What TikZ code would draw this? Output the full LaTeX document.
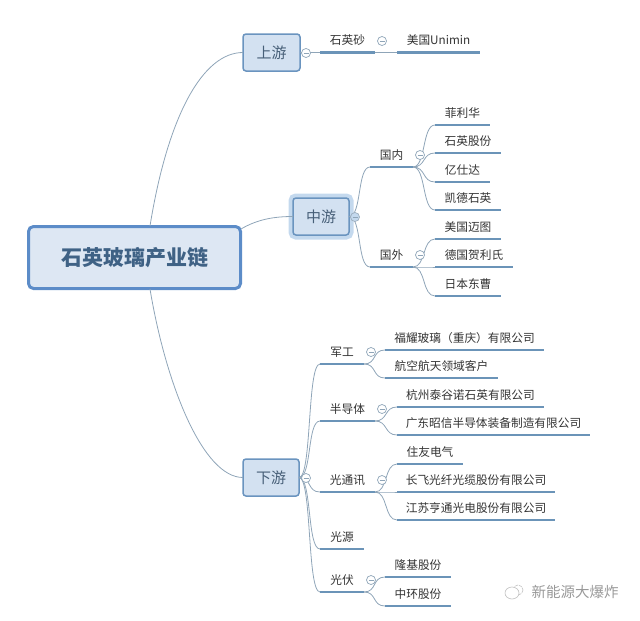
\documentclass[tikz,border=0pt]{standalone}
\usepackage{fontspec}
\setmainfont{Noto Sans CJK SC}
\usetikzlibrary{calc}
\definecolor{barblue}{HTML}{6B94B8}
\definecolor{linkgray}{HTML}{8FA5B8}
\definecolor{boxfill}{HTML}{D3E1F1}
\definecolor{boxedge}{HTML}{6A94BF}
\definecolor{rootedge}{HTML}{5C8CC8}
\definecolor{rootfill}{HTML}{DDE7F3}
\definecolor{haloblue}{HTML}{C4D9EE}
\definecolor{inktext}{HTML}{475F78}
\definecolor{roottext}{HTML}{3F6285}
\tikzset{
	leaf/.style={inner sep=0pt,outer sep=0pt,minimum height=24pt,anchor=south west,font=\fontsize{11.7}{12}\selectfont,text=black!80},
	stagebox/.style={draw=boxedge,fill=boxfill,line width=1.5pt,rounded corners=3pt,inner sep=0pt,outer sep=0pt,minimum width=56pt,minimum height=37pt,font=\fontsize{15}{16}\selectfont,text=inktext},
	rootbox/.style={draw=rootedge,fill=rootfill,line width=3pt,rounded corners=5pt,inner sep=0pt,outer sep=0pt,minimum width=212pt,minimum height=62pt,font=\fontsize{21}{22}\selectfont\bfseries,text=roottext},
	underbar/.style={draw=barblue,line width=2.2pt},
	link/.style={draw=linkgray,line width=.8pt},
	curvy/.style={out=0,in=180,distance=13pt},
	fold/.style={circle,draw=linkgray,fill=white,line width=.7pt,inner sep=0pt,minimum size=9pt,
		path picture={\draw[linkgray,line width=.7pt] ($(path picture bounding box.center)+(-2.5pt,0)$) -- ($(path picture bounding box.center)+(2.5pt,0)$);}},
}
\begin{document}
\begin{tikzpicture}[x=1pt,y=-1pt]
	\useasboundingbox (0,0) rectangle (640,621);

	% main boxes
	\node[rootbox] (root) at (134.5,257.5) {石英玻璃产业链};
	\node[stagebox,minimum width=57pt] (shangyou) at (271.5,52.5) {上游};
	\node[stagebox,preaction={draw=haloblue,line width=9pt}] (zhongyou) at (321,216.5) {中游};
	\node[stagebox] (xiayou) at (271,477.5) {下游};
	\coordinate (roottop) at (150,226);
	\coordinate (rootbottom) at (150,289);
	\coordinate (rootright) at (241,229);

	% upstream
	\node[leaf,minimum width=55pt] (sand) at (320,52.5) {石英砂};
	\node[leaf,minimum width=83pt] (unimin) at (397,52.5) {美国Unimin};

	% midstream
	\node[leaf,minimum width=43pt] (guonei) at (370,167) {国内};
	\node[leaf,minimum width=43pt] (guowai) at (370,267) {国外};
	\node[leaf,minimum width=55pt] (feilihua) at (435,125) {菲利华};
	\node[leaf,minimum width=66pt] (shiying) at (435,153) {石英股份};
	\node[leaf,minimum width=55pt] (yishida) at (435,182) {亿仕达};
	\node[leaf,minimum width=66pt] (kaide) at (435,210) {凯德石英};
	\node[leaf,minimum width=66pt] (maitu) at (435,239) {美国迈图};
	\node[leaf,minimum width=78pt] (heli) at (435,267) {德国贺利氏};
	\node[leaf,minimum width=66pt] (dongcao) at (435,296) {日本东曹};

	% downstream
	\node[leaf,minimum width=44pt] (jungong) at (320,364) {军工};
	\node[leaf,minimum width=55pt] (bandaoti) at (320,421) {半导体};
	\node[leaf,minimum width=55pt] (guangtong) at (320,492) {光通讯};
	\node[leaf,minimum width=44pt] (guangyuan) at (320,549) {光源};
	\node[leaf,minimum width=44pt] (guangfu) at (320,592) {光伏};
	\node[leaf,minimum width=159pt] (fuyao) at (385,350) {福耀玻璃（重庆）有限公司};
	\node[leaf,minimum width=113pt] (hangkong) at (385,378) {航空航天领域客户};
	\node[leaf,minimum width=147pt] (taigu) at (397,407) {杭州泰谷诺石英有限公司};
	\node[leaf,minimum width=193pt] (zhaoxin) at (397,435) {广东昭信半导体装备制造有限公司};
	\node[leaf,minimum width=66pt] (zhuyou) at (397,464) {住友电气};
	\node[leaf,minimum width=158pt] (changfei) at (397,492) {长飞光纤光缆股份有限公司};
	\node[leaf,minimum width=158pt] (hengtong) at (397,520) {江苏亨通光电股份有限公司};
	\node[leaf,minimum width=66pt] (longji) at (385,577) {隆基股份};
	\node[leaf,minimum width=66pt] (zhonghuan) at (385,606) {中环股份};

	% connectors
	\draw[link] (roottop) .. controls (168,115) and (203,52.5) .. (shangyou.west);
	\draw[link] (rootright) .. controls (258,219) and (275,216.5) .. (zhongyou.west);
	\draw[link] (rootbottom) .. controls (166,385) and (203,477.5) .. (xiayou.west);
	\draw[link] (shangyou.east) -- (sand.south west);
	\draw[link] (sand.south east) -- (unimin.south west);
	\foreach \kid in {guonei,guowai}
		\draw[link] (zhongyou.east) to[curvy] (\kid.south west);
	\foreach \kid in {feilihua,shiying,yishida,kaide}
		\draw[link] (guonei.south east) to[curvy] (\kid.south west);
	\foreach \kid in {maitu,heli,dongcao}
		\draw[link] (guowai.south east) to[curvy] (\kid.south west);
	\foreach \kid in {jungong,bandaoti,guangtong,guangyuan,guangfu}
		\draw[link] (xiayou.east) to[curvy] (\kid.south west);
	\foreach \kid in {fuyao,hangkong}
		\draw[link] (jungong.south east) to[curvy] (\kid.south west);
	\foreach \kid in {taigu,zhaoxin}
		\draw[link] (bandaoti.south east) to[curvy] (\kid.south west);
	\foreach \kid in {zhuyou,changfei,hengtong}
		\draw[link] (guangtong.south east) to[curvy] (\kid.south west);
	\foreach \kid in {longji,zhonghuan}
		\draw[link] (guangfu.south east) to[curvy] (\kid.south west);

	% bars under the texts
	\foreach \n in {sand,unimin,guonei,guowai,feilihua,shiying,yishida,kaide,maitu,heli,dongcao,jungong,bandaoti,guangtong,guangyuan,guangfu,fuyao,hangkong,taigu,zhaoxin,zhuyou,changfei,hengtong,longji,zhonghuan}
		\draw[underbar] (\n.south west) -- (\n.south east);

	% collapse marks
	\node[fold] (foldup) at (306,53) {};
	\node[fold] (foldsand) at (382,41) {};
	\node[fold,fill=haloblue,draw=haloblue!80!black] (foldmid) at (355,217) {};
	\node[fold] (foldin) at (420,155) {};
	\node[fold] (foldout) at (420,255) {};
	\node[fold] (folddown) at (306,478) {};
	\node[fold] (foldjun) at (371,352) {};
	\node[fold] (foldsemi) at (382,409) {};
	\node[fold] (foldtong) at (382,480) {};
	\node[fold] (foldfu) at (371,580) {};

	% watermark
	\node[font=\fontsize{14.5}{15}\selectfont,text=black!40] (mark) at (575,592) {新能源大爆炸};
	\draw[black!25,line width=.6pt,dashed,dash pattern=on 3pt off 1pt] (518,590) circle (5);
	\draw[black!25,line width=.6pt,fill=white] (512,593) ellipse (7 and 6);
\end{tikzpicture}
\end{document}
